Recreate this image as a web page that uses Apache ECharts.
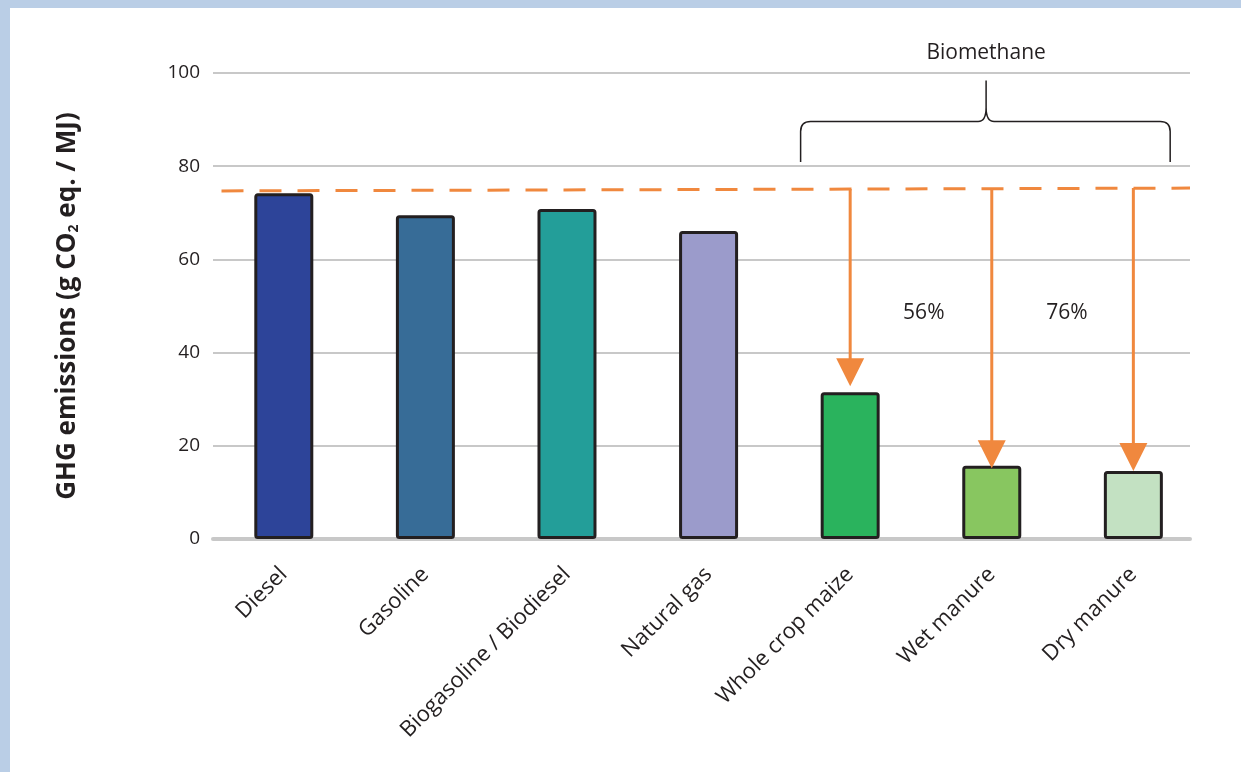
<!DOCTYPE html>
<html>
<head>
<meta charset="utf-8">
<script src="https://cdn.jsdelivr.net/npm/echarts@6/dist/echarts.min.js"></script>
<style>
  html, body { margin: 0; padding: 0; background: #bacee6; }
  #frame { position: absolute; left: 10px; top: 8px; right: 0; bottom: 0; background: #fff; }
  #chart { position: absolute; left: 0; top: 0; width: 1241px; height: 772px; }
</style>
</head>
<body>
<div id="frame"></div>
<div id="chart"></div>
<script>
// fuel categories and emissions (g CO2 eq. / MJ)
const categories = ['Diesel', 'Gasoline', 'Biogasoline / Biodiesel', 'Natural gas', 'Whole crop maize', 'Wet manure', 'Dry manure']
const emissions = [74.2, 69.5, 70.8, 66.1, 31.5, 15.7, 14.6]
const barColors = ['#2d4499', '#376c97', '#239e99', '#9b9bcb', '#2ab35d', '#88c660', '#c3e1c2']
const yTicks = [0, 20, 40, 60, 80, 100]

// fossil reference line (dashed) and reduction arrows [category index, from, to]
const referenceLine = [[-0.44, 74.7], [6.4, 75.3]]
const reductionArrows = [[4, 75.1, 32.8], [5, 75.2, 15.2], [6, 75.3, 14.6]]
const reductionLabels = [[4.52, 48.5, '56%'], [5.53, 48.5, '76%']]
// brace over biomethane: [left, right, bottom, middle, tip x, tip y]
const brace = [[3.65, 6.26, 80.9, 89.6, 4.96, 98.4]]
const braceLabel = [[4.96, 104.3, 'Biomethane']]

const FONT = '"Open Sans", "Noto Sans", sans-serif'
const TEXT = '#231f20'
const ORANGE = '#f0883e'

const chart = echarts.init(document.getElementById('chart'))

chart.setOption({
  animation: false,
  grid: { left: 213, right: 51, top: 73, bottom: 233, containLabel: false },
  xAxis: {
    type: 'value',
    min: -0.5,
    max: 6.4,
    splitLine: { show: false },
    axisTick: { show: false },
    axisLine: { show: true, lineStyle: { color: '#c8c8c8', width: 4 } },
    axisLabel: {
      customValues: categories.map((c, i) => i),
      formatter: v => categories[Math.round(v)] || '',
      rotate: 45,
      margin: 32,
      fontFamily: FONT,
      fontSize: 22,
      color: TEXT
    }
  },
  yAxis: {
    type: 'value',
    min: yTicks[0],
    max: yTicks[yTicks.length - 1],
    interval: 20,
    axisLine: { show: false },
    axisTick: { show: false },
    splitLine: { lineStyle: { color: '#c8c8c8', width: 2 } },
    axisLabel: { margin: 13, fontFamily: FONT, fontSize: 19, color: TEXT },
    name: 'GHG emissions (g CO{sub|2} eq. / MJ)',
    nameLocation: 'middle',
    nameRotate: 90,
    nameGap: 132,
    nameTextStyle: {
      fontFamily: FONT,
      fontSize: 26,
      fontWeight: 'bold',
      color: TEXT,
      rich: {
        sub: { fontFamily: FONT, fontSize: 14, fontWeight: 'bold', color: TEXT, padding: [12, 0, 0, 0] }
      }
    }
  },
  series: [
    {
      type: 'bar',
      barWidth: 59,
      data: emissions.map((v, i) => ({
        value: [i, v],
        itemStyle: { color: barColors[i] }
      })),
      itemStyle: { borderColor: TEXT, borderWidth: 3, borderRadius: 2 },
      z: 2
    },
    {
      type: 'line',
      data: referenceLine,
      symbol: 'none',
      lineStyle: { color: ORANGE, width: 3, type: [22, 16] },
      z: 3
    },
    {
      type: 'custom',
      data: reductionArrows,
      z: 4,
      renderItem: (params, api) => {
        const top = api.coord([api.value(0), api.value(1)])
        const tip = api.coord([api.value(0), api.value(2)])
        const head = 28
        return {
          type: 'group',
          children: [
            {
              type: 'line',
              shape: { x1: top[0], y1: top[1], x2: tip[0], y2: tip[1] - head + 2 },
              style: { stroke: ORANGE, lineWidth: 3 }
            },
            {
              type: 'polygon',
              shape: { points: [[tip[0] - head / 2, tip[1] - head], [tip[0] + head / 2, tip[1] - head], [tip[0], tip[1]]] },
              style: { fill: ORANGE }
            }
          ]
        }
      }
    },
    {
      type: 'custom',
      data: brace,
      z: 4,
      renderItem: (params, api) => {
        const l = api.coord([api.value(0), api.value(2)])
        const r = api.coord([api.value(1), api.value(2)])
        const m = api.coord([api.value(4), api.value(3)])[1]
        const t = api.coord([api.value(4), api.value(5)])
        const c = 10
        const path = [
          `M${l[0]} ${l[1]}`, `L${l[0]} ${m + c}`, `Q${l[0]} ${m} ${l[0] + c} ${m}`,
          `L${t[0] - 8} ${m}`, `Q${t[0]} ${m} ${t[0]} ${m - 14}`, `L${t[0]} ${t[1]}`,
          `M${t[0]} ${m - 14}`, `Q${t[0]} ${m} ${t[0] + 8} ${m}`,
          `L${r[0] - c} ${m}`, `Q${r[0]} ${m} ${r[0]} ${m + c}`, `L${r[0]} ${r[1]}`
        ].join(' ')
        return {
          type: 'path',
          shape: { pathData: path },
          style: { stroke: TEXT, lineWidth: 1.5, fill: null }
        }
      }
    },
    {
      type: 'custom',
      data: reductionLabels.concat(braceLabel),
      z: 5,
      renderItem: (params, api) => {
        const p = api.coord([api.value(0), api.value(1)])
        return {
          type: 'text',
          x: p[0],
          y: p[1],
          style: {
            text: api.value(2),
            fontFamily: FONT,
            fontSize: 21,
            fill: TEXT,
            align: 'center',
            verticalAlign: 'middle'
          }
        }
      }
    }
  ]
})
</script>
</body>
</html>
